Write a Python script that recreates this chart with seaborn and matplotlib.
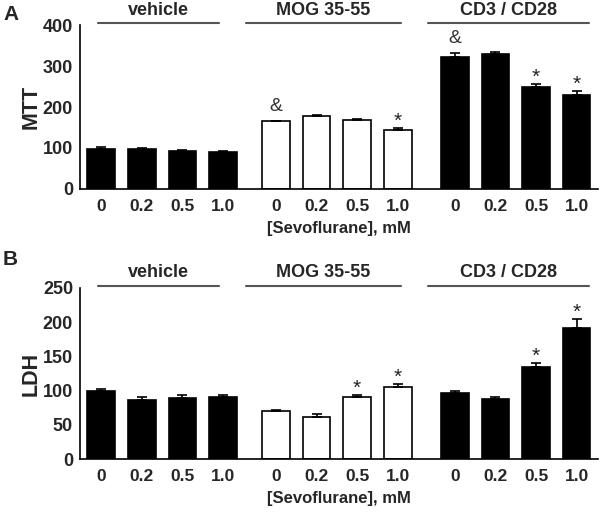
import numpy as np
import pandas as pd
import matplotlib
matplotlib.use("Agg")
import matplotlib.pyplot as plt
import seaborn as sns

# --- data ---
doses = ["0", "0.2", "0.5", "1.0"]
groups = ["vehicle", "MOG 35-55", "CD3 / CD28"]
group_offsets = [0.0, 4.3, 8.7]

mtt_vehicle = [98, 98, 92, 90]
mtt_mog = [165, 178, 168, 143]
mtt_cd3 = [322, 329, 250, 230]
mtt_err_vehicle = [5, 2, 2, 2]
mtt_err_mog = [2, 2, 2, 6]
mtt_err_cd3 = [10, 6, 7, 8]
mtt_marks = ["", "", "", "", "&", "", "", "*", "&", "", "*", "*"]

ldh_vehicle = [100, 86, 89, 90]
ldh_mog = [70, 62, 90, 105]
ldh_cd3 = [96, 87, 134, 191]
ldh_err_vehicle = [3, 5, 4, 3]
ldh_err_mog = [1, 4, 3, 4]
ldh_err_cd3 = [3, 4, 7, 13]
ldh_marks = ["", "", "", "", "", "", "*", "*", "", "", "*", "*"]

palette = {"vehicle": "black", "MOG 35-55": "white", "CD3 / CD28": "black"}


def make_frame(vals, errs):
    rows = []
    for g, off, v, e in zip(groups, group_offsets, vals, errs):
        for i, d in enumerate(doses):
            rows.append({"group": g, "dose": d, "pos": off + i, "val": v[i], "err": e[i]})
    return pd.DataFrame(rows)


def draw_panel(ax, df, marks, ymax, ystep, ylabel):
    sns.barplot(data=df, x="pos", y="val", hue="group", palette=palette,
                native_scale=True, width=0.68, edgecolor="black", linewidth=1.2,
                errorbar=None, legend=False, ax=ax)
    ax.errorbar(df["pos"], df["val"], yerr=[np.zeros(len(df)), df["err"]],
                fmt="none", ecolor="black", elinewidth=1.2, capsize=3.5, capthick=1.2)
    for x, top, m in zip(df["pos"], df["val"] + df["err"], marks):
        if m == "&":
            ax.annotate(m, (x, top), xytext=(0, 4), textcoords="offset points",
                        ha="center", va="bottom", fontsize=14, color="#333333")
        elif m:
            ax.annotate(m, (x, top), xytext=(0, -2), textcoords="offset points",
                        ha="center", va="bottom", fontsize=15, color="#222222")

    ax.set_xlim(-0.52, 12.22)
    ax.set_ylim(0, ymax)
    ax.set_yticks(np.arange(0, ymax + 1, ystep))
    ax.set_xticks(df["pos"])
    ax.set_xticklabels(df["dose"])
    ax.tick_params(axis="x", length=0, pad=7, labelsize=12.5)
    ax.tick_params(axis="y", length=4, width=1.2, direction="out", pad=1, labelsize=13)
    for lab in ax.get_yticklabels() + ax.get_xticklabels():
        lab.set_fontweight("bold")
    ax.set_xlabel("[Sevoflurane], mM", fontsize=12, fontweight="bold", labelpad=5)
    ax.set_ylabel(ylabel, fontsize=15.5, fontweight="bold", labelpad=1)
    for s in ["top", "right"]:
        ax.spines[s].set_visible(False)
    for s in ["left", "bottom"]:
        ax.spines[s].set_color("black")
        ax.spines[s].set_linewidth(1.2)

    # group bars above
    spans = [(-0.08, 2.9), (3.56, 7.38), (8.05, 12.0)]
    yline = ymax * 1.01
    for (x0, x1), g in zip(spans, groups):
        ax.plot([x0, x1], [yline, yline], color="#555555", lw=1.5, clip_on=False)
        ax.text((x0 + x1) / 2, yline + ymax * 0.03, g, ha="center", va="bottom",
                fontsize=13, fontweight="bold")


sns.set_theme(style="white")
plt.rcParams["font.family"] = ["Liberation Sans", "DejaVu Sans"]

fig = plt.figure(figsize=(6, 5.12), dpi=100)
ax_a = fig.add_axes([0.1333, 0.631, 0.863, 0.320])
ax_b = fig.add_axes([0.1333, 0.1035, 0.863, 0.334])

draw_panel(ax_a, make_frame([mtt_vehicle, mtt_mog, mtt_cd3],
                            [mtt_err_vehicle, mtt_err_mog, mtt_err_cd3]),
           mtt_marks, 400, 100, "MTT")
draw_panel(ax_b, make_frame([ldh_vehicle, ldh_mog, ldh_cd3],
                            [ldh_err_vehicle, ldh_err_mog, ldh_err_cd3]),
           ldh_marks, 250, 50, "LDH")

fig.text(0.005, 0.972, "A", fontsize=15, fontweight="bold", va="center")
fig.text(0.005, 0.493, "B", fontsize=15, fontweight="bold", va="center")

fig.savefig("out.png", dpi=100)
